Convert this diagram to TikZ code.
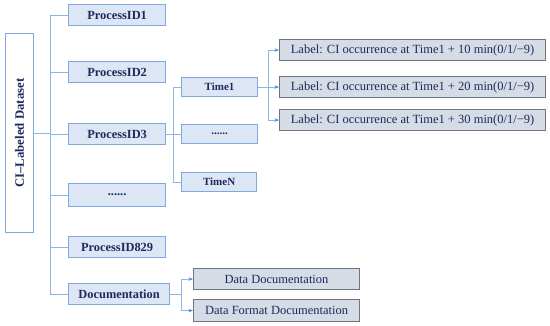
\documentclass[tikz,border=0pt]{standalone}
\usepackage{fontspec}
\setmainfont{Liberation Serif}
\usetikzlibrary{arrows.meta}
\definecolor{pfill}{HTML}{DCE6F4}
\definecolor{pborder}{HTML}{7FAADF}
\definecolor{lfill}{HTML}{D5DCE6}
\definecolor{lborder}{HTML}{6F7580}
\definecolor{navy}{HTML}{1C2B5C}
\definecolor{conn}{HTML}{8DB6E6}
\definecolor{arr}{HTML}{4A8AD4}
\tikzset{
  x=1pt,y=-1pt,
  pbox/.style={draw=pborder,fill=pfill,line width=1.2pt,text=navy,font=\bfseries\fontsize{12.4}{13}\selectfont,inner sep=0pt,anchor=north west},
  lbox/.style={draw=lborder,fill=lfill,line width=1.1pt,text=navy,font=\fontsize{12.5}{13}\selectfont,inner sep=0pt,anchor=north west},
  rootbox/.style={draw=pborder,fill=white,line width=1.2pt,inner sep=0pt,anchor=north west},
  cn/.style={draw=conn,line width=0.9pt},
  ar/.style={draw=conn,line width=0.9pt,-{Stealth[length=4.5pt,width=3.5pt,color=arr]}},
}
\begin{document}
\begin{tikzpicture}
\useasboundingbox (0,0) rectangle (550,325);
% root
\node[rootbox,minimum width=28pt,minimum height=199pt] (root) at (5,33) {};
\node[rotate=90,text=navy,font=\bfseries\fontsize{12.8}{13}\selectfont] (roott) at (root.center) {CI–Labeled Dataset};
% process boxes
\node[pbox,minimum width=97pt,minimum height=21pt] (p1) at (68,4) {ProcessID1};
\node[pbox,minimum width=97pt,minimum height=21pt] (p2) at (68,61) {ProcessID2};
\node[pbox,minimum width=97pt,minimum height=21pt] (p3) at (68,123) {ProcessID3};
\node[pbox,minimum width=97pt,minimum height=23pt] (pd) at (68,183) {......};
\node[pbox,minimum width=97pt,minimum height=21pt] (p829) at (68,236) {ProcessID829};
\node[pbox,minimum width=101pt,minimum height=21pt] (doc) at (68,283) {Documentation};
% time boxes
\node[pbox,minimum width=76pt,minimum height=19pt,font=\bfseries\fontsize{11}{12}\selectfont] (t1) at (181,77) {Time1};
\node[pbox,minimum width=76pt,minimum height=19pt,font=\bfseries\fontsize{11}{12}\selectfont] (td) at (181,124) {......};
\node[pbox,minimum width=75pt,minimum height=19pt,font=\bfseries\fontsize{11}{12}\selectfont] (tn) at (181,172) {TimeN};
% label boxes
\node[lbox,minimum width=266pt,minimum height=21pt] (l1) at (279,39) {Label: CI occurrence at Time1 + 10 min(0/1/−9)};
\node[lbox,minimum width=266pt,minimum height=21pt] (l2) at (279,76) {Label: CI occurrence at Time1 + 20 min(0/1/−9)};
\node[lbox,minimum width=266pt,minimum height=21pt] (l3) at (279,109) {Label: CI occurrence at Time1 + 30 min(0/1/−9)};
% doc boxes
\node[lbox,minimum width=166pt,minimum height=21pt] (d1) at (193,268) {Data Documentation};
\node[lbox,minimum width=166pt,minimum height=22pt] (d2) at (193,299) {Data Format Documentation};
% trunk
\coordinate (tr) at (50,0);
\draw[cn] (root.east) -- (root.east -| tr);
\draw[cn] (p1.west -| tr) -- (doc.west -| tr);
\foreach \n in {p1,p2,p3,pd,p829,doc} \draw[cn] (\n.west -| tr) -- (\n.west);
% time branch
\coordinate (tt) at (173,0);
\draw[cn] (p3.east) -- (p3.east -| tt);
\draw[cn] (t1.west -| tt) -- (tn.west -| tt);
\foreach \n in {t1,td,tn} \draw[cn] (\n.west -| tt) -- (\n.west);
% label branch
\coordinate (lt) at (268,0);
\draw[cn] (t1.east) -- (t1.east -| lt);
\draw[cn] (l1.west -| lt) -- (l3.west -| lt);
\foreach \n in {l1,l2,l3} \draw[ar] (\n.west -| lt) -- (\n.west);
% doc branch
\coordinate (dt) at (181,0);
\draw[cn] (doc.east) -- (doc.east -| dt);
\draw[cn] (d1.west -| dt) -- (d2.west -| dt);
\foreach \n in {d1,d2} \draw[ar] (\n.west -| dt) -- (\n.west);
\end{tikzpicture}
\end{document}
